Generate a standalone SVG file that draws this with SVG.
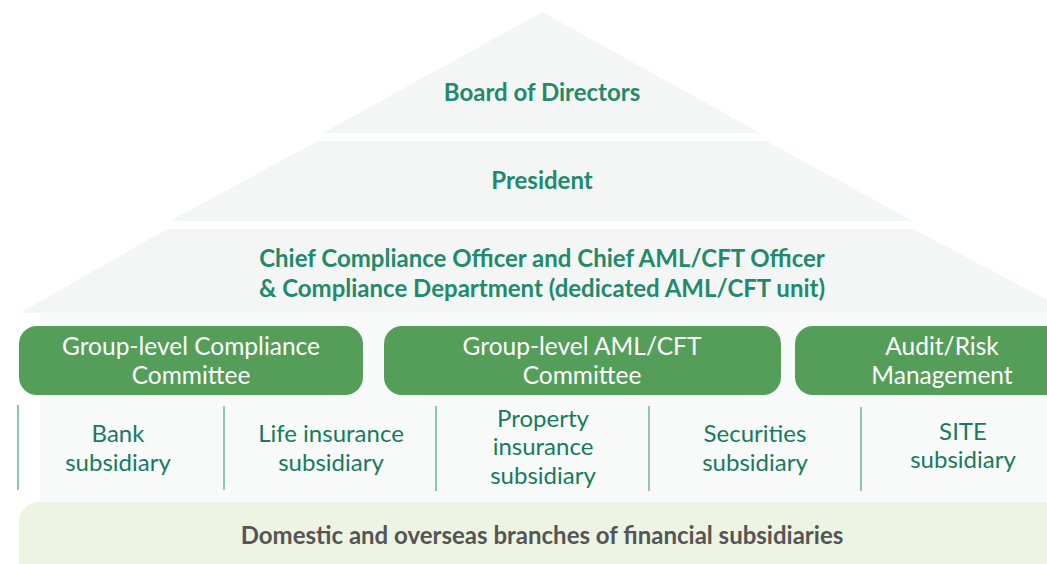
<svg xmlns="http://www.w3.org/2000/svg" width="1047" height="564" viewBox="0 0 1047 564">
<defs>
<style>
.tier{fill:#f4f6f6}
.lvl{font-family:Lato,"Open Sans","Liberation Sans",sans-serif;font-weight:bold;font-size:24px;fill:#228a6b;text-anchor:middle}
.box{fill:#549e5a}
.btxt{font-family:Lato,"Open Sans","Liberation Sans",sans-serif;font-size:24.5px;fill:#ffffff;text-anchor:middle}
.sub{font-family:Lato,"Open Sans","Liberation Sans",sans-serif;font-size:24px;fill:#177a5c;text-anchor:middle}
.sep{stroke:#8fc6b1;stroke-width:2}
.base{fill:#edf4e3}
.btm{font-family:Lato,"Open Sans","Liberation Sans",sans-serif;font-weight:bold;font-size:24px;fill:#555555;text-anchor:middle}
</style>
</defs>
<rect width="1047" height="564" fill="#ffffff"/>
<rect x="40" y="313" width="1007" height="190" fill="#f8fafa"/>
<g id="board">
<polygon class="tier" points="542,12 323,133 760,133"/>
<text class="lvl" x="542" y="101">Board of Directors</text>
</g>
<g id="president">
<polygon class="tier" points="318,141 766,141 913,221 170,221"/>
<text class="lvl" x="542" y="189">President</text>
</g>
<g id="cco">
<polygon class="tier" points="167,229 913,229 1072,313 20,313"/>
<text class="lvl" x="542" y="267">Chief Compliance Officer and Chief AML/CFT Officer</text>
<text class="lvl" x="542" y="297">&amp; Compliance Department (dedicated AML/CFT unit)</text>
</g>
<g id="group-compliance">
<rect class="box" x="19" y="326" width="344" height="69" rx="18"/>
<text class="btxt" x="191" y="355">Group-level Compliance</text>
<text class="btxt" x="191" y="384">Committee</text>
</g>
<g id="group-aml">
<rect class="box" x="384" y="326" width="397" height="69" rx="18"/>
<text class="btxt" x="582" y="355">Group-level AML/CFT</text>
<text class="btxt" x="582" y="384">Committee</text>
</g>
<g id="audit-risk">
<rect class="box" x="795" y="326" width="280" height="69" rx="18"/>
<text class="btxt" x="942" y="355">Audit/Risk</text>
<text class="btxt" x="942" y="384">Management</text>
</g>
<g id="connectors">
<line class="sep" x1="18" y1="405" x2="18" y2="490"/>
<line class="sep" x1="224" y1="406" x2="224" y2="490"/>
<line class="sep" x1="436" y1="406" x2="436" y2="491"/>
<line class="sep" x1="649" y1="406" x2="649" y2="491"/>
<line class="sep" x1="861" y1="407" x2="861" y2="491"/>
</g>
<g id="bank">
<text class="sub" x="118" y="442">Bank</text>
<text class="sub" x="118" y="471">subsidiary</text>
</g>
<g id="life">
<text class="sub" x="331" y="442">Life insurance</text>
<text class="sub" x="331" y="471">subsidiary</text>
</g>
<g id="property">
<text class="sub" x="543" y="427">Property</text>
<text class="sub" x="543" y="455">insurance</text>
<text class="sub" x="543" y="484">subsidiary</text>
</g>
<g id="securities">
<text class="sub" x="755" y="442">Securities</text>
<text class="sub" x="755" y="471">subsidiary</text>
</g>
<g id="site">
<text class="sub" x="963" y="440">SITE</text>
<text class="sub" x="963" y="468">subsidiary</text>
</g>
<g id="branches">
<rect class="base" x="19" y="502" width="1060" height="90" rx="20"/>
<text class="btm" x="542" y="544">Domestic and overseas branches of financial subsidiaries</text>
</g>
</svg>
